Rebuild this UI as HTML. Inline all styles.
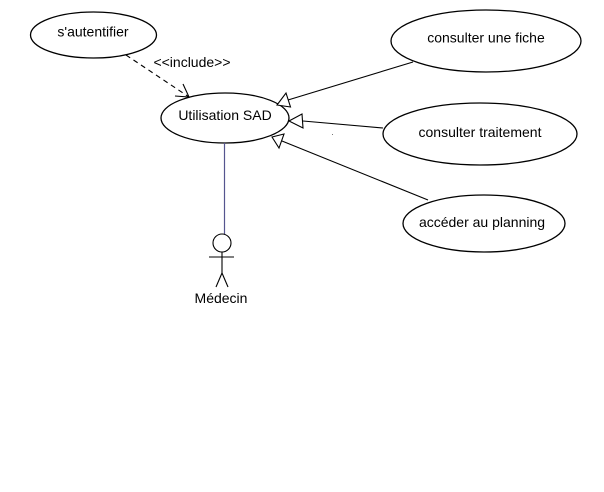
<!DOCTYPE html>
<html><head><meta charset="utf-8"><style>
html,body{margin:0;padding:0;background:#fff;}
svg{display:block;}
text{font-family:"Liberation Sans",Arial,sans-serif;font-size:14px;fill:#000;}
</style></head><body>
<svg width="604" height="492" viewBox="0 0 604 492" xmlns="http://www.w3.org/2000/svg">
<rect width="604" height="492" fill="#fff"/>
<g fill="#fff" stroke="#000" stroke-width="1.3">
<ellipse cx="93.5" cy="35" rx="63" ry="23"/>
<ellipse cx="225" cy="118" rx="64" ry="25"/>
<ellipse cx="486" cy="41" rx="95" ry="31"/>
<ellipse cx="480" cy="134" rx="97" ry="31"/>
<ellipse cx="484" cy="223.5" rx="81" ry="28.5"/>
</g>
<line x1="224.5" y1="143" x2="224.5" y2="234" stroke="#55558f" stroke-width="1.2"/>
<g stroke="#000" stroke-width="1.1" fill="none">
<line x1="126" y1="55" x2="189" y2="97" stroke-dasharray="5,4"/>
<polyline points="183,84 189,97 175,96"/>
<line x1="288" y1="100" x2="413" y2="62"/>
<polygon points="277,105 286,93 290.5,107" fill="#fff"/>
<line x1="303" y1="121" x2="383" y2="128"/>
<polygon points="289,121 302,114 303,128" fill="#fff"/>
<line x1="282" y1="141" x2="428" y2="200"/>
<polygon points="272,137 284,134 279,148" fill="#fff"/>
<circle cx="222" cy="243" r="9" fill="#fff"/>
<line x1="222" y1="252" x2="222" y2="273"/>
<line x1="209" y1="257" x2="234" y2="257"/>
<line x1="222" y1="273" x2="216" y2="287"/>
<line x1="222" y1="273" x2="228" y2="287"/>
</g>
<rect x="332" y="134" width="1" height="1" fill="#777"/>
<text x="93" y="36.5" text-anchor="middle">s'autentifier</text>
<text x="225" y="120" text-anchor="middle">Utilisation SAD</text>
<text x="486" y="42.5" text-anchor="middle">consulter une fiche</text>
<text x="480" y="137" text-anchor="middle">consulter traitement</text>
<text x="482" y="227" text-anchor="middle">accéder au planning</text>
<text x="192" y="67" text-anchor="middle">&lt;&lt;include&gt;&gt;</text>
<text x="221" y="303" text-anchor="middle">Médecin</text>
</svg>
</body></html>
